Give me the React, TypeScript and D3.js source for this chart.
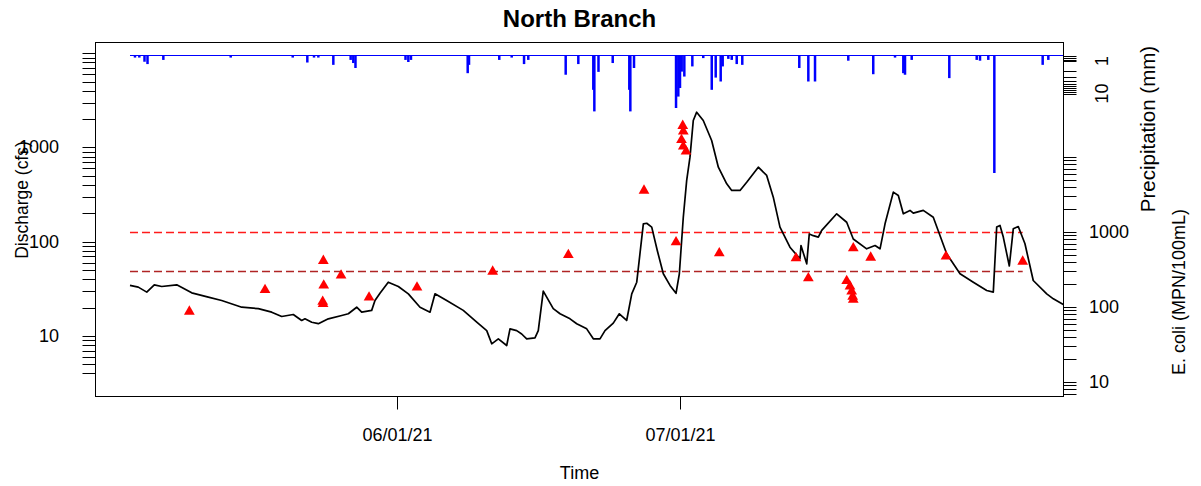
import React from "react";
import * as d3 from "d3";

// reference date: all day offsets are "days since 2021-06-01 00:00"
const BASE_DATE = Date.UTC(2021, 5, 1);

// Discharge (cfs)
const qDay = [-28.37,-27.49,-26.59,-25.79,-25.0,-23.41,-21.82,-20.06,-18.64,-16.51,
  -14.75,-13.33,-12.27,-11.04,-10.15,-9.8,-9.08,-8.38,-7.32,-5.9,
  -5.2,-4.31,-3.78,-2.72,-2.37,-1.84,-0.96,0.11,1.17,2.41,
  2.94,3.47,4.0,5.24,7.0,8.43,9.49,10.02,10.72,11.61,
  11.96,12.67,13.2,13.73,14.61,14.96,15.49,16.55,17.27,18.33,
  19.04,20.1,20.8,21.51,22.04,22.92,23.56,24.34,24.88,25.41,
  26.11,26.47,27.0,27.59,28.23,28.94,29.58,29.93,30.35,30.71,
  31.06,31.41,31.77,32.47,33.36,34.07,34.96,35.49,36.37,37.08,
  38.31,39.2,39.9,40.61,41.67,42.73,42.84,43.45,43.72,44.15,
  44.68,45.04,46.63,47.69,48.39,49.81,50.7,51.23,51.76,52.64,
  53.17,53.7,54.41,54.76,55.82,56.88,58.3,59.72,61.13,62.55,
  63.25,63.61,63.96,64.31,64.95,65.37,65.9,66.61,67.49,68.92,69.62,70.68];
const qCfs = [34.4,33.0,29.2,34.9,33.5,34.9,28.7,25.8,23.8,20.2,
  19.5,17.9,16.1,16.9,14.6,15.2,14.0,13.5,15.2,16.5,
  17.2,20.2,17.9,18.7,23.8,28.4,37.2,33.5,28.0,20.2,
  19.0,17.9,28.0,23.8,18.7,14.0,11.4,8.26,9.33,7.93,
  11.9,11.4,10.5,9.33,9.57,11.4,29.9,19.5,17.2,15.2,
  13.5,11.9,9.33,9.33,11.4,13.7,17.2,14.6,28.0,37.2,
  155,157,143,80.7,45.7,34.4,28.4,45.7,182,447,
  789,1932,2370,1932,1186,618,412,350,350,428,
  618,505,297,143,87.5,65.9,91.2,58.3,121,116,
  112,132,198,161,107,84.1,91.2,84.1,155,336,
  310,198,215,201,215,182,74.5,45.7,37.2,30.4,
  29.2,143,149,112,55.3,137,145,95.1,38.8,28.0,24.8,21.6];

// E. coli (MPN/100mL)
const ecDay = [-22.07,-14.04,-7.85,-5.97,-7.81,-7.92,-7.88,-3.0,2.09,10.12,
  18.15,26.18,29.58,30.29,30.35,30.16,30.35,30.64,34.17,42.31,
  43.62,47.69,48.04,48.22,48.33,48.39,48.39,50.24,58.23,66.37];
const ecVal = [87,169,413,263,194,118,110,134,182,297,
  494,3575,732,26100,21900,16900,13850,11850,522,448,
  243,223,188,161,138,125,608,457,472,404];
const ecThresholds = [1000, 300];
const thresholdColors = ["#ff1a1a", "#b02424"];

// Precipitation (mm)
const pDay = [-27.84,-27.38,-26.83,-26.51,-24.83,-17.68,-11.1,-9.55,-8.84,-8.38,
  -6.79,-4.95,-4.67,-4.44,0.87,1.17,1.45,7.47,7.61,10.82,
  12.14,13.45,13.9,17.87,19.21,20.8,20.91,21.35,22.86,24.62,
  24.73,25.12,29.58,29.82,30.0,30.18,30.46,31.31,32.47,33.37,
  33.79,34.32,34.53,35.13,35.49,36.02,36.61,42.66,43.62,44.33,
  47.86,50.51,52.82,53.7,53.88,54.59,58.58,61.49,61.84,62.72,
  63.36,68.49,69.09];
const pMm = [0.8,0.8,2.4,3.3,1.7,0.8,0.8,2.7,0.8,0.8,
  3.6,1.7,2.9,4.8,1.7,2.5,1.7,6.8,3.6,1.7,
  0.8,3.3,1.7,7.4,3.3,13.2,21.5,6.3,2.9,13.2,
  21.5,4.8,20.2,15.8,12.5,6.2,8.1,4.2,1.0,13.2,
  8.5,10.0,4.2,1.3,1.7,3.3,3.6,4.8,10.0,10.0,
  2.0,7.2,0.8,6.8,7.4,1.7,8.7,1.7,2.0,1.7,
  45.2,3.6,1.7];

// Axis ticks
const xTickDays = [0, 30];
const xTickLabels = ["06/01/21", "07/01/21"];
const qTickLabels = [10, 100, 1000];
const ecTickLabels = [10, 100, 1000];
const pTickLabels = [1, 10];

const toDate = (d: number) => new Date(BASE_DATE + d * 86400000);
const logMinor = (lo: number, hi: number) => {
  const out: number[] = [];
  for (let e = -1; e <= 4; e++)
    for (let k = 1; k <= 9; k++) {
      const v = k * Math.pow(10, e);
      if (v >= lo - 1e-9 && v <= hi + 1e-9) out.push(v);
    }
  if (10000 >= lo && 10000 <= hi) out.push(10000);
  return Array.from(new Set(out));
};

const W = 1201, H = 486;
const L = 95.5, R = 1063.5, T = 42.5, B = 396.5;
const FONT = "'Liberation Sans', Arial, Helvetica, sans-serif";

export default function App() {
  const x = d3.scaleUtc().domain([toDate(-32.03), toDate(70.7)]).range([L, R]);
  const yQ = d3.scaleLog().domain([2.28, 13000]).range([B, T]);
  const yE = d3.scaleLog().domain([6.41, 336500]).range([B, T]);
  const yPaxis = d3.scaleLog().domain([1, 10]).range([61, 93.5]);
  const yPbar = d3.scaleLinear().domain([0, 50]).range([55.5, 185.5]);

  const qData = qDay.map((d, i) => ({ t: toDate(d), v: qCfs[i] }));
  const line = d3.line<{ t: Date; v: number }>().x((d) => x(d.t)).y((d) => yQ(d.v));

  const tri = d3.symbol().type(d3.symbolTriangle).size(50)();

  const qTicks = logMinor(4, 10000);
  const eTicks = logMinor(7, 10000);
  const pTicks = logMinor(0.7, 10);

  const tStart = toDate(qDay[0]);
  const ecEnd = toDate(d3.max(ecDay) as number);

  return (
    <svg width={W} height={H} style={{ position: "absolute", left: 0, top: 0, background: "#fff" }}
      fontFamily={FONT}>
      <rect x={0} y={0} width={W} height={H} fill="#fff" />
      {/* title */}
      <text x={(L + R) / 2} y={18} textAnchor="middle" dominantBaseline="central"
        fontWeight="bold" fontSize={24}>North Branch</text>

      {/* precipitation */}
      <line x1={x(tStart)} x2={R} y1={yPbar(0)} y2={yPbar(0)} stroke="#0000ff" strokeWidth={1} />
      {pDay.map((d, i) => (
        <line key={"p" + i} x1={x(toDate(d))} x2={x(toDate(d))} y1={yPbar(0)} y2={yPbar(pMm[i])}
          stroke="#0000ff" strokeWidth={2.5} />
      ))}

      {/* thresholds */}
      {ecThresholds.map((v, i) => (
        <line key={"th" + i} x1={x(tStart)} x2={x(ecEnd)} y1={Math.round(yE(v)) + 0.5} y2={Math.round(yE(v)) + 0.5}
          stroke={thresholdColors[i]} strokeWidth={1.3} strokeDasharray="8,4" />
      ))}

      {/* discharge */}
      <path d={line(qData) || ""} fill="none" stroke="#000" strokeWidth={1.7} strokeLinejoin="round" />

      {/* E. coli */}
      {ecDay.map((d, i) => (
        <path key={"e" + i} d={tri || ""} fill="#ff0000"
          transform={`translate(${x(toDate(d))},${yE(ecVal[i])})`} />
      ))}

      {/* box */}
      <rect x={L} y={T} width={R - L} height={B - T} fill="none" stroke="#000" strokeWidth={1} />

      {/* left axis */}
      {qTicks.map((v, i) => (
        <line key={"ql" + i} x1={L - 13} x2={L} y1={Math.round(yQ(v)) + 0.5} y2={Math.round(yQ(v)) + 0.5}
          stroke="#000" strokeWidth={1} />
      ))}
      {qTickLabels.map((v) => (
        <text key={"qt" + v} x={59} y={yQ(v)} textAnchor="end" dominantBaseline="central" fontSize={18}>{v}</text>
      ))}
      <text transform={`translate(22,200) rotate(-90)`} textAnchor="middle" dominantBaseline="central"
        fontSize={17.5}>Discharge (cfs)</text>

      {/* right axis E. coli */}
      {eTicks.map((v, i) => (
        <line key={"el" + i} x1={R} x2={R + 13} y1={Math.round(yE(v)) + 0.5} y2={Math.round(yE(v)) + 0.5}
          stroke="#000" strokeWidth={1} />
      ))}
      {ecTickLabels.map((v) => (
        <text key={"et" + v} x={1089} y={yE(v)} textAnchor="start" dominantBaseline="central" fontSize={18}>{v}</text>
      ))}

      {/* right axis precipitation */}
      {pTicks.map((v, i) => (
        <line key={"pl" + i} x1={R} x2={R + 13} y1={Math.round(yPaxis(v)) + 0.5} y2={Math.round(yPaxis(v)) + 0.5}
          stroke="#000" strokeWidth={1} />
      ))}
      {pTickLabels.map((v) => (
        <text key={"pt" + v} transform={`translate(1102,${yPaxis(v)}) rotate(-90)`} textAnchor="middle"
          dominantBaseline="central" fontSize={18}>{v}</text>
      ))}
      <text transform={`translate(1147,129) rotate(-90)`} textAnchor="middle" dominantBaseline="central"
        fontSize={20.5}>Precipitation (mm)</text>
      <text transform={`translate(1179,292) rotate(-90)`} textAnchor="middle" dominantBaseline="central"
        fontSize={18}>E. coli (MPN/100mL)</text>

      {/* bottom axis */}
      {xTickDays.map((d, i) => {
        const px = Math.round(x(toDate(d))) + 0.5;
        return (
          <g key={"x" + i}>
            <line x1={px} x2={px} y1={B} y2={B + 13} stroke="#000" strokeWidth={1} />
            <text x={px} y={435} textAnchor="middle" dominantBaseline="central" fontSize={18}>{xTickLabels[i]}</text>
          </g>
        );
      })}
      <text x={(L + R) / 2} y={473} textAnchor="middle" dominantBaseline="central" fontSize={18}>Time</text>
    </svg>
  );
}
